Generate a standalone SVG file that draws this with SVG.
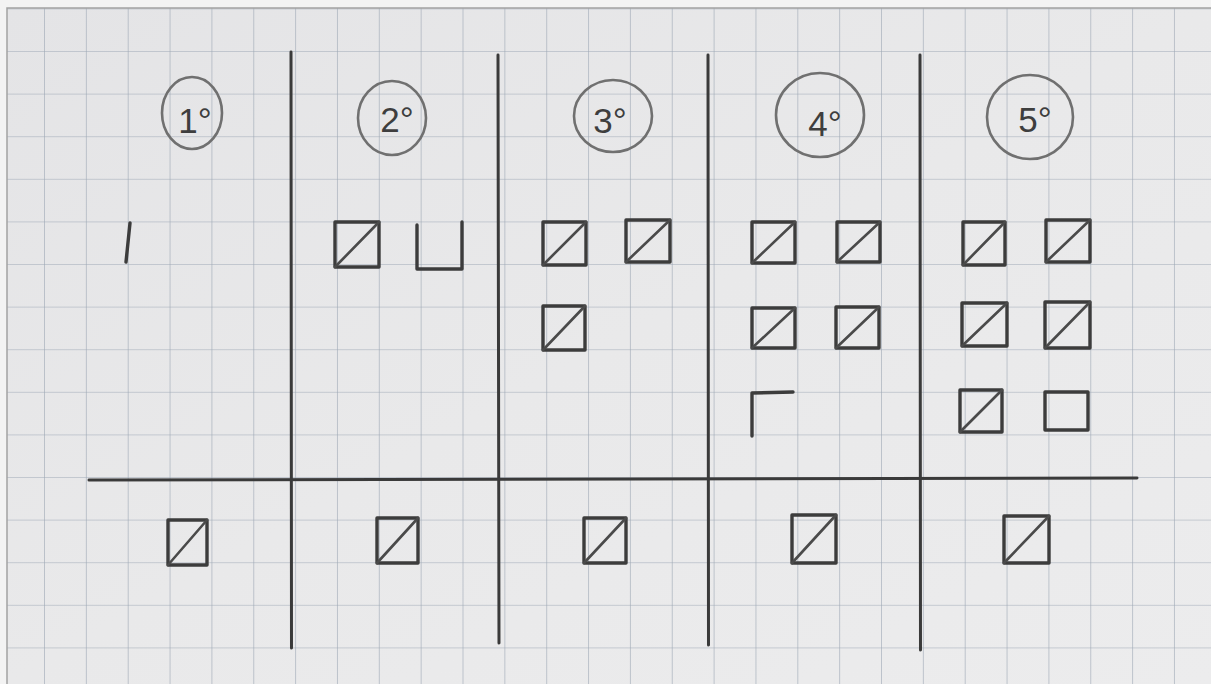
<svg xmlns="http://www.w3.org/2000/svg" width="1211" height="684" viewBox="0 0 1211 684">
<defs>
<linearGradient id="paper" x1="0" y1="0" x2="1" y2="1">
<stop offset="0" stop-color="#e4e4e6"/>
<stop offset="0.5" stop-color="#e9e9ea"/>
<stop offset="1" stop-color="#ececed"/>
</linearGradient>
<pattern id="grid" x="3.15" y="9.4" width="41.85" height="42.6" patternUnits="userSpaceOnUse">
<path d="M41.85 0 V42.6 M0 42.6 H41.85" fill="none" stroke="#9da8b5" stroke-width="1.2"/>
</pattern>
</defs>
<style>
.div{stroke:#3a3a3a;stroke-width:3;fill:none;stroke-linecap:round}
.sq{stroke:#3c3c3c;stroke-width:3.4;fill:none;stroke-linejoin:round;stroke-linecap:round}
.dg{stroke:#4a4a4a;stroke-width:2.6;stroke-linecap:round}
.ring{stroke:#707070;stroke-width:2.6;fill:none}
.lbl{font-family:"Liberation Sans",Arial,sans-serif;font-size:35px;fill:#3e3e3e;text-anchor:middle}
</style>
<rect x="0" y="0" width="1211" height="684" fill="#f3f3f3"/>
<rect x="7" y="8" width="1204" height="676" fill="url(#paper)"/>
<rect x="7" y="8" width="1204" height="676" fill="url(#grid)"/>
<path d="M7 684 V8 H1211" fill="none" stroke="#a2a2a2" stroke-width="1.5"/>

<g id="dividers">
<path class="div" d="M291 52 L291.5 648"/>
<path class="div" d="M498 55 L499 643"/>
<path class="div" d="M708 55 L708.5 645"/>
<path class="div" d="M920 55 L920.5 650"/>
<path class="div" d="M89 480 L1137 478"/>
</g>

<g id="col1">
<ellipse class="ring" cx="192" cy="113" rx="30" ry="36"/>
<text class="lbl" x="195" y="133">1°</text>
<path class="sq" d="M130 223 L126 262"/>
</g>

<g id="col2">
<ellipse class="ring" cx="392" cy="118" rx="34" ry="37"/>
<text class="lbl" x="397" y="132">2°</text>
<rect class="sq" x="335" y="222" width="44" height="45"/><path class="dg" d="M335 267 L379 222"/>
<path class="sq" d="M417 225 L417 269 L462 269 L462 222"/>
</g>

<g id="col3">
<ellipse class="ring" cx="613" cy="116" rx="39" ry="36"/>
<text class="lbl" x="610" y="133">3°</text>
<rect class="sq" x="543" y="222" width="43" height="43"/><path class="dg" d="M543 265 L586 222"/>
<rect class="sq" x="626" y="220" width="44" height="42"/><path class="dg" d="M626 262 L670 220"/>
<rect class="sq" x="543" y="306" width="42" height="44"/><path class="dg" d="M543 350 L585 306"/>
</g>

<g id="col4">
<ellipse class="ring" cx="820" cy="115" rx="44" ry="42"/>
<text class="lbl" x="825" y="136">4°</text>
<rect class="sq" x="752" y="222" width="43" height="41"/><path class="dg" d="M752 263 L795 222"/>
<rect class="sq" x="837" y="222" width="43" height="40"/><path class="dg" d="M837 262 L880 222"/>
<rect class="sq" x="752" y="308" width="43" height="40"/><path class="dg" d="M752 348 L795 308"/>
<rect class="sq" x="836" y="307" width="43" height="41"/><path class="dg" d="M836 348 L879 307"/>
<path class="sq" d="M752 436 L752 393 L793 392"/>
</g>

<g id="col5">
<ellipse class="ring" cx="1030" cy="117" rx="43" ry="42"/>
<text class="lbl" x="1035" y="132">5°</text>
<rect class="sq" x="963" y="222" width="42" height="43"/><path class="dg" d="M963 265 L1005 222"/>
<rect class="sq" x="1046" y="220" width="44" height="42"/><path class="dg" d="M1046 262 L1090 220"/>
<rect class="sq" x="962" y="303" width="45" height="43"/><path class="dg" d="M962 346 L1007 303"/>
<rect class="sq" x="1045" y="302" width="45" height="46"/><path class="dg" d="M1045 348 L1090 302"/>
<rect class="sq" x="960" y="390" width="42" height="42"/><path class="dg" d="M960 432 L1002 390"/>
<rect class="sq" x="1045" y="392" width="43" height="38"/>
</g>

<g id="bottom">
<rect class="sq" x="168" y="520" width="39" height="45"/><path class="dg" d="M168 565 L207 520"/>
<rect class="sq" x="377" y="518" width="41" height="45"/><path class="dg" d="M377 563 L418 518"/>
<rect class="sq" x="584" y="518" width="42" height="45"/><path class="dg" d="M584 563 L626 518"/>
<rect class="sq" x="792" y="515" width="44" height="48"/><path class="dg" d="M792 563 L836 515"/>
<rect class="sq" x="1004" y="516" width="45" height="47"/><path class="dg" d="M1004 563 L1049 516"/>
</g>
</svg>
